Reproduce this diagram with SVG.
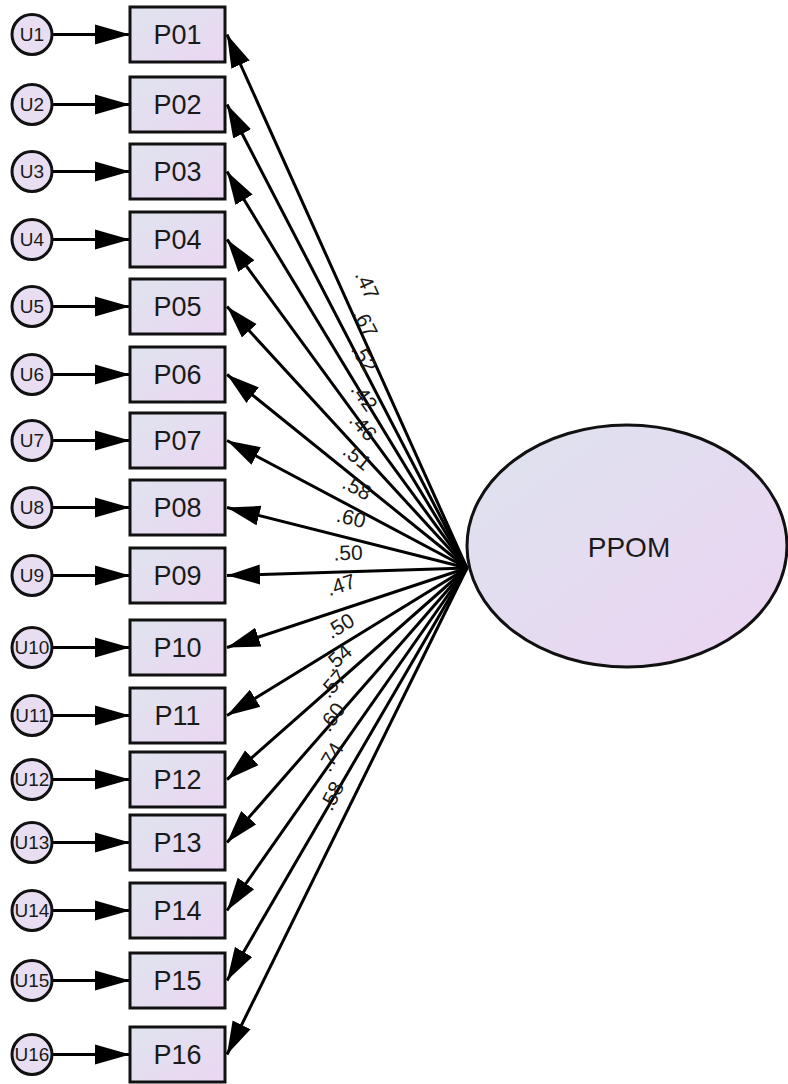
<svg xmlns="http://www.w3.org/2000/svg" width="788" height="1084" viewBox="0 0 788 1084">
<defs>
<linearGradient id="gBox" x1="0" y1="0" x2="1" y2="1">
<stop offset="0" stop-color="#dfe4ee"/>
<stop offset="1" stop-color="#ebd6f2"/>
</linearGradient>
<linearGradient id="gEll" x1="0" y1="0" x2="1" y2="1">
<stop offset="0" stop-color="#dde3ee"/>
<stop offset="1" stop-color="#ecd4f3"/>
</linearGradient>
<marker id="ah" markerUnits="userSpaceOnUse" markerWidth="36" markerHeight="22" viewBox="0 0 36 22" refX="35" refY="11" orient="auto">
<path d="M0,1 L35,11 L0,21 z" fill="#000"/>
</marker>
<marker id="ah2" markerUnits="userSpaceOnUse" markerWidth="34" markerHeight="22" viewBox="0 0 34 22" refX="33" refY="11" orient="auto">
<path d="M0,1 L33,11 L0,21 z" fill="#000"/>
</marker>
</defs>
<style>
.box{fill:url(#gBox);stroke:#111;stroke-width:3}
.err{fill:#e8ddf1;stroke:#111;stroke-width:3}
.lat{fill:url(#gEll);stroke:#111;stroke-width:3}
.bt{font-family:"Liberation Sans",Arial,sans-serif;font-size:27px;fill:#1a1a1a;text-anchor:middle}
.ut{font-family:"Liberation Sans",Arial,sans-serif;font-size:19px;fill:#1a1a1a;text-anchor:middle}
.lt{font-family:"Liberation Sans",Arial,sans-serif;font-size:28px;fill:#1a1a1a;text-anchor:middle}
.cl{font-family:"Liberation Sans",Arial,sans-serif;font-size:21px;fill:#1a1a1a;text-anchor:middle}
.ce{stroke:#000;stroke-width:3;fill:none;marker-end:url(#ah)}
.cf{stroke:#000;stroke-width:3;fill:none;marker-end:url(#ah2)}
</style>

<g id="connectors">
<line class="ce" x1="52" y1="34.5" x2="130" y2="34.5"/>
<line class="ce" x1="52" y1="104.5" x2="130" y2="104.5"/>
<line class="ce" x1="52" y1="171.5" x2="130" y2="171.5"/>
<line class="ce" x1="52" y1="239.5" x2="130" y2="239.5"/>
<line class="ce" x1="52" y1="306.5" x2="130" y2="306.5"/>
<line class="ce" x1="52" y1="374.5" x2="130" y2="374.5"/>
<line class="ce" x1="52" y1="440.5" x2="130" y2="440.5"/>
<line class="ce" x1="52" y1="507.5" x2="130" y2="507.5"/>
<line class="ce" x1="52" y1="575.5" x2="130" y2="575.5"/>
<line class="ce" x1="52" y1="647.5" x2="130" y2="647.5"/>
<line class="ce" x1="52" y1="715.5" x2="130" y2="715.5"/>
<line class="ce" x1="52" y1="779.5" x2="130" y2="779.5"/>
<line class="ce" x1="52" y1="842.5" x2="130" y2="842.5"/>
<line class="ce" x1="52" y1="910.5" x2="130" y2="910.5"/>
<line class="ce" x1="52" y1="980.5" x2="130" y2="980.5"/>
<line class="ce" x1="52" y1="1054.5" x2="130" y2="1054.5"/>

<line class="cf" x1="467" y1="568" x2="227" y2="34.5"/>
<line class="cf" x1="467" y1="568" x2="227" y2="104.5"/>
<line class="cf" x1="467" y1="568" x2="227" y2="171.5"/>
<line class="cf" x1="467" y1="568" x2="227" y2="239.5"/>
<line class="cf" x1="467" y1="568" x2="227" y2="306.5"/>
<line class="cf" x1="467" y1="568" x2="227" y2="374.5"/>
<line class="cf" x1="467" y1="568" x2="227" y2="440.5"/>
<line class="cf" x1="467" y1="568" x2="227" y2="507.5"/>
<line class="cf" x1="467" y1="568" x2="227" y2="575.5"/>
<line class="cf" x1="467" y1="568" x2="227" y2="647.5"/>
<line class="cf" x1="467" y1="568" x2="227" y2="715.5"/>
<line class="cf" x1="467" y1="568" x2="227" y2="779.5"/>
<line class="cf" x1="467" y1="568" x2="227" y2="842.5"/>
<line class="cf" x1="467" y1="568" x2="227" y2="910.5"/>
<line class="cf" x1="467" y1="568" x2="227" y2="980.5"/>
<line class="cf" x1="467" y1="568" x2="227" y2="1054.5"/>

<g id="coef">
<text class="cl" transform="translate(367,285) rotate(65.7)" y="7">.47</text>
<text class="cl" transform="translate(365,323) rotate(62.5)" y="7">.67</text>
<text class="cl" transform="translate(364,358) rotate(58.7)" y="7">.52</text>
<text class="cl" transform="translate(364,397) rotate(53.7)" y="7">.42</text>
<text class="cl" transform="translate(363,427) rotate(47.3)" y="7">.46</text>
<text class="cl" transform="translate(357,457) rotate(38.8)" y="7">.51</text>
<text class="cl" transform="translate(357,488) rotate(27.9)" y="7">.58</text>
<text class="cl" transform="translate(351,518) rotate(14.1)" y="7">.60</text>
<text class="cl" transform="translate(348,553) rotate(-1.8)" y="7">.50</text>
<text class="cl" transform="translate(341,585) rotate(-18.3)" y="7">.47</text>
<text class="cl" transform="translate(340,626) rotate(-31.5)" y="7">.50</text>
<text class="cl" transform="translate(338,658) rotate(-41.3)" y="7">.54</text>
<text class="cl" transform="translate(333,684) rotate(-48.7)" y="7">.57</text>
<text class="cl" transform="translate(332,717) rotate(-54.9)" y="7">.60</text>
<text class="cl" transform="translate(331,757) rotate(-59.7)" y="7">.74</text>
<text class="cl" transform="translate(332,796) rotate(-63.6)" y="7">.58</text>
</g>
</g>

<g id="PPOM"><ellipse class="lat" cx="627" cy="546" rx="160" ry="121"/><text class="lt" x="629" y="557">PPOM</text></g>

<g id="U1"><circle class="err" cx="32" cy="34.5" r="20"/><text class="ut" x="32" y="41">U1</text></g>
<g id="U2"><circle class="err" cx="32" cy="104.5" r="20"/><text class="ut" x="32" y="111">U2</text></g>
<g id="U3"><circle class="err" cx="32" cy="171.5" r="20"/><text class="ut" x="32" y="178">U3</text></g>
<g id="U4"><circle class="err" cx="32" cy="239.5" r="20"/><text class="ut" x="32" y="246">U4</text></g>
<g id="U5"><circle class="err" cx="32" cy="306.5" r="20"/><text class="ut" x="32" y="313">U5</text></g>
<g id="U6"><circle class="err" cx="32" cy="374.5" r="20"/><text class="ut" x="32" y="381">U6</text></g>
<g id="U7"><circle class="err" cx="32" cy="440.5" r="20"/><text class="ut" x="32" y="447">U7</text></g>
<g id="U8"><circle class="err" cx="32" cy="507.5" r="20"/><text class="ut" x="32" y="514">U8</text></g>
<g id="U9"><circle class="err" cx="32" cy="575.5" r="20"/><text class="ut" x="32" y="582">U9</text></g>
<g id="U10"><circle class="err" cx="32" cy="647.5" r="20"/><text class="ut" x="32" y="654">U10</text></g>
<g id="U11"><circle class="err" cx="32" cy="715.5" r="20"/><text class="ut" x="32" y="722">U11</text></g>
<g id="U12"><circle class="err" cx="32" cy="779.5" r="20"/><text class="ut" x="32" y="786">U12</text></g>
<g id="U13"><circle class="err" cx="32" cy="842.5" r="20"/><text class="ut" x="32" y="849">U13</text></g>
<g id="U14"><circle class="err" cx="32" cy="910.5" r="20"/><text class="ut" x="32" y="917">U14</text></g>
<g id="U15"><circle class="err" cx="32" cy="980.5" r="20"/><text class="ut" x="32" y="987">U15</text></g>
<g id="U16"><circle class="err" cx="32" cy="1054.5" r="20"/><text class="ut" x="32" y="1061">U16</text></g>

<g id="P01"><rect class="box" x="130" y="7" width="95" height="55"/><text class="bt" x="177.5" y="44">P01</text></g>
<g id="P02"><rect class="box" x="130" y="77" width="95" height="55"/><text class="bt" x="177.5" y="114">P02</text></g>
<g id="P03"><rect class="box" x="130" y="144" width="95" height="55"/><text class="bt" x="177.5" y="181">P03</text></g>
<g id="P04"><rect class="box" x="130" y="212" width="95" height="55"/><text class="bt" x="177.5" y="249">P04</text></g>
<g id="P05"><rect class="box" x="130" y="279" width="95" height="55"/><text class="bt" x="177.5" y="316">P05</text></g>
<g id="P06"><rect class="box" x="130" y="347" width="95" height="55"/><text class="bt" x="177.5" y="384">P06</text></g>
<g id="P07"><rect class="box" x="130" y="413" width="95" height="55"/><text class="bt" x="177.5" y="450">P07</text></g>
<g id="P08"><rect class="box" x="130" y="480" width="95" height="55"/><text class="bt" x="177.5" y="517">P08</text></g>
<g id="P09"><rect class="box" x="130" y="548" width="95" height="55"/><text class="bt" x="177.5" y="585">P09</text></g>
<g id="P10"><rect class="box" x="130" y="620" width="95" height="55"/><text class="bt" x="177.5" y="657">P10</text></g>
<g id="P11"><rect class="box" x="130" y="688" width="95" height="55"/><text class="bt" x="177.5" y="725">P11</text></g>
<g id="P12"><rect class="box" x="130" y="752" width="95" height="55"/><text class="bt" x="177.5" y="789">P12</text></g>
<g id="P13"><rect class="box" x="130" y="815" width="95" height="55"/><text class="bt" x="177.5" y="852">P13</text></g>
<g id="P14"><rect class="box" x="130" y="883" width="95" height="55"/><text class="bt" x="177.5" y="920">P14</text></g>
<g id="P15"><rect class="box" x="130" y="953" width="95" height="55"/><text class="bt" x="177.5" y="990">P15</text></g>
<g id="P16"><rect class="box" x="130" y="1027" width="95" height="55"/><text class="bt" x="177.5" y="1064">P16</text></g>
</svg>
